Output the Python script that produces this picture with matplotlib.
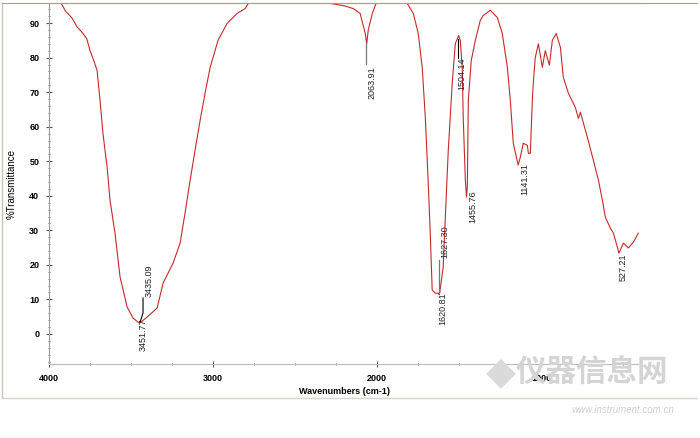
import numpy as np
import matplotlib
matplotlib.use('Agg')
from matplotlib import pyplot as plt
from matplotlib.lines import Line2D
from matplotlib.ticker import MultipleLocator

plt.rcParams['font.family'] = ['Liberation Sans', 'Noto Sans CJK SC', 'DejaVu Sans']

# IR spectrum (wavenumber, %T)
wn = [4000, 3960, 3933, 3900, 3860, 3830, 3793, 3770, 3750, 3730, 3707, 3689, 3671, 3646,
      3628, 3598, 3567, 3524, 3488, 3452, 3435, 3402, 3341, 3305, 3244, 3201, 3171, 3140,
      3110, 3079, 3049, 3018, 2970, 2915, 2854, 2805, 2774, 2600, 2360, 2287, 2200, 2146,
      2104, 2073, 2064, 2055, 2030, 2000, 1900, 1829, 1780, 1750, 1726, 1707, 1689, 1677,
      1665, 1646, 1628, 1621, 1598, 1585, 1567, 1543, 1524, 1504, 1494, 1482, 1476, 1463,
      1456, 1451, 1445, 1427, 1402, 1372, 1354, 1311, 1268, 1238, 1207, 1189, 1171, 1141,
      1128, 1110, 1085, 1079, 1067, 1055, 1049, 1037, 1018, 994, 976, 951, 933, 909, 884,
      866, 835, 793, 774, 762, 720, 683, 652, 628, 610, 579, 561, 537, 527, 500, 470, 439, 409]
tr = [99.5, 98.0, 96.4, 93.5, 91.5, 89.0, 87.0, 85.5, 82.0, 79.5, 76.3, 67.6, 58.0, 48.3,
      38.7, 29.2, 16.5, 7.8, 4.6, 3.2, 3.6, 4.9, 7.5, 14.7, 20.5, 26.3, 35.0, 44.5,
      53.2, 61.9, 69.7, 77.2, 85.0, 89.9, 92.8, 94.2, 96.6, 98.5, 95.8, 95.7, 95.0, 94.2,
      92.8, 87.0, 84.0, 87.9, 92.8, 96.6, 99.0, 96.6, 92.8, 87.0, 77.2, 62.7, 43.6, 29.2,
      12.7, 11.8, 11.8, 11.3, 19.4, 33.8, 53.2, 72.6, 84.1, 86.4, 85.0, 77.2, 62.7, 44.5,
      39.6, 42.5, 67.6, 79.2, 85.0, 90.8, 92.2, 93.7, 91.6, 87.0, 77.2, 67.6, 55.2, 48.9,
      51.2, 55.2, 54.6, 52.3, 52.3, 67.6, 72.6, 80.0, 84.0, 77.2, 82.0, 77.8, 85.0, 87.0, 83.0,
      74.3, 69.7, 65.6, 62.4, 64.2, 57.0, 50.3, 44.5, 38.7, 33.8, 30.6, 29.2, 25.2, 23.4, 26.3, 24.9, 26.6, 29.2]

x_ticks = [4000, 3000, 2000, 1000]
y_ticks = [0, 10, 20, 30, 40, 50, 60, 70, 80, 90]

# peak labels: text, anchor x, anchor y, vertical alignment of the rotated text
peak_labels = ['3451.77', '3435.09', '2063.91', '1627.30', '1620.81',
               '1504.14', '1455.76', '1141.31', '527.21']
label_x = [3427, 3390, 2030, 1591, 1598, 1484, 1415, 1098, 500]
label_y = [4.6, 10.7, 77.6, 22.0, 12.1, 80.0, 41.6, 49.4, 23.4]
label_va = ['top', 'bottom', 'top', 'bottom', 'top', 'top', 'top', 'top', 'top']

fig = plt.figure(figsize=(7, 4.38), dpi=100)
ax = fig.add_axes([0.07, 0.169, 0.844, 0.824])
ax.plot(wn, tr, color='#c42a2c', lw=0.8)
ax.set_xlim(4000, 400)
ax.set_ylim(-8.7, 95.8)

ax.set_xticks(x_ticks)
ax.set_yticks(y_ticks)
ax.xaxis.set_minor_locator(MultipleLocator(250))
ax.yaxis.set_minor_locator(MultipleLocator(2))
ax.tick_params(which='major', direction='inout', length=4, width=0.8, color='#555555',
               labelsize=6.5, pad=5)
ax.tick_params(which='minor', direction='inout', length=2, width=0.8, color='#777777')
for lbl in ax.get_xticklabels() + ax.get_yticklabels():
    lbl.set_fontweight('bold')
    lbl.set_zorder(5)

ax.spines['right'].set_visible(False)
ax.spines['top'].set_color('#a89f86')
ax.spines['left'].set_color('#999999')
ax.spines['bottom'].set_color('#bbbbbb')
for s in ax.spines.values():
    s.set_linewidth(0.8)

ax.set_xlabel('Wavenumbers (cm-1)', fontsize=6.5, fontweight='bold', labelpad=3)
ax.set_ylabel('%Transmittance', fontsize=7)
ax.yaxis.set_label_coords(-0.054, 0.5)

# leader lines
ax.plot([3427, 3427, 3445], [10.4, 6.1, 3.4], color='black', lw=0.8)
ax.plot([2067, 2067], [84.1, 78.3], color='#777777', lw=0.9)
ax.plot([1622, 1622], [21.4, 11.9], color='#777777', lw=0.9)
ax.plot([1506, 1506], [85.5, 80.0], color='black', lw=0.8)

for txt, lx, ly, va in zip(peak_labels, label_x, label_y, label_va):
    ax.text(lx, ly, txt, rotation=90, ha='center', va=va, fontsize=6.5, color='#222222')

# outer frame of the screenshot
fig.add_artist(Line2D([0.003, 0.003], [0.092, 0.993], color='#c8c2ae', lw=1.0))
fig.add_artist(Line2D([0.003, 0.996], [0.092, 0.092], color='#d8d4c8', lw=1.0))
fig.add_artist(Line2D([0.003, 0.996], [0.993, 0.993], color='#a89f86', lw=0.8))

# watermark
fig.text(0.845, 0.15, '仪器信息网', fontsize=22, fontweight='bold', color='#d4d4d4',
         ha='center', va='center', family=['Noto Sans CJK SC', 'DejaVu Sans'], zorder=0)
fig.text(0.715, 0.15, '◆', fontsize=28, color='#dadada', ha='center', va='center',
         family=['DejaVu Sans'], zorder=0)
fig.text(0.89, 0.065, 'www.instrument.com.cn', fontsize=7, style='italic', color='#d0d0d0',
         ha='center', va='center')

fig.savefig('out.png', dpi=100)
